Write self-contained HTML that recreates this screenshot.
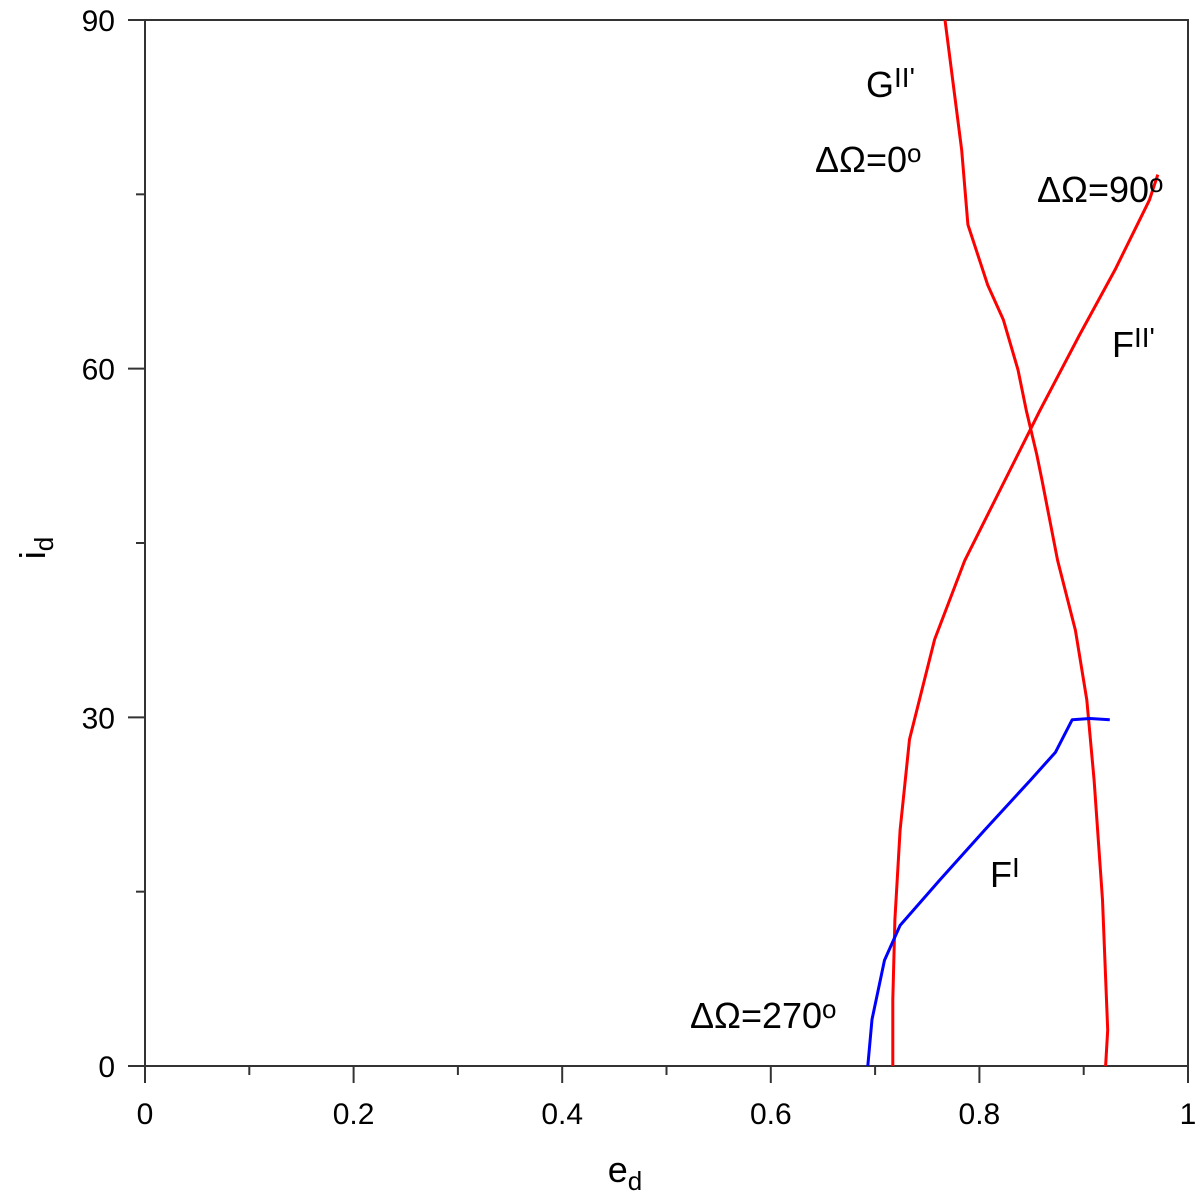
<!DOCTYPE html>
<html><head><meta charset="utf-8"><style>
html,body{margin:0;padding:0;background:#fff;}
svg{display:block;font-family:"Liberation Sans",Arial,sans-serif;}
</style></head><body>
<svg id="chart" width="1200" height="1200" viewBox="0 0 1200 1200">
<g id="axes"></g>
<g id="series"></g>
<g id="labels" font-size="36" fill="#000">
<text x="866" y="97">G<tspan font-size="28" dy="-10">II'</tspan></text>
<text x="815" y="172">ΔΩ=0<tspan font-size="26" dy="-10">o</tspan></text>
<text x="1037" y="202">ΔΩ=90<tspan font-size="26" dy="-10">o</tspan></text>
<text x="1112" y="357">F<tspan font-size="28" dy="-10">II'</tspan></text>
<text x="990" y="887">F<tspan font-size="28" dy="-10">I</tspan></text>
<text x="690" y="1028">ΔΩ=270<tspan font-size="26" dy="-10">o</tspan></text>
</g>
</svg>
<script>
const xTicks=[0,0.2,0.4,0.6,0.8,1];
const xTickLabels=["0","0.2","0.4","0.6","0.8","1"];
const xMinor=[0.1,0.3,0.5,0.7,0.9];
const yTicks=[0,30,60,90];
const yTickLabels=["0","30","60","90"];
const yMinor=[15,45,75];
const gE=[0.767,0.783,0.789,0.808,0.823,0.837,0.845,0.855,0.860,0.875,0.892,0.903,0.910,0.918,0.923,0.921];
const gI=[90,78.8,72.4,67.2,64.2,59.9,56.4,52.6,50.4,43.5,37.5,31.5,24.6,14.3,3.1,0];
const fE=[0.971,0.963,0.930,0.896,0.858,0.820,0.786,0.757,0.733,0.724,0.719,0.717,0.717];
const fI=[76.7,74.5,68.5,62.9,56.4,49.6,43.5,36.7,28.1,20.3,12.6,5.7,0];
const bE=[0.693,0.697,0.709,0.724,0.762,0.805,0.849,0.873,0.889,0.906,0.925];
const bI=[0,4,9.1,12.1,16,20.3,24.6,27,29.8,29.9,29.8];

const L=145,R=1188,T=20,B=1066;
const X=v=>L+(R-L)*v;
const Y=v=>B-(B-T)*v/90;
const NS="http://www.w3.org/2000/svg";
function mk(tag,attrs,parent){const e=document.createElementNS(NS,tag);for(const k in attrs)e.setAttribute(k,attrs[k]);parent.appendChild(e);return e;}
const ax=document.getElementById('axes');
let f=mk('rect',{x:L,y:T,width:R-L,height:B-T,fill:'none',stroke:'#333','stroke-width':2},ax);


xTicks.forEach((v,i)=>{
 let t=mk('line',{x1:X(v),x2:X(v),y1:B,y2:B+17,stroke:'#333','stroke-width':2},ax);
 
 
 let l=mk('text',{x:X(v),y:B+58,'font-size':30,'text-anchor':'middle'},ax);
 l.textContent=xTickLabels[i];
 
 
});
xMinor.forEach(v=>{
 let t=mk('line',{x1:X(v),x2:X(v),y1:B,y2:B+9,stroke:'#333','stroke-width':2},ax);
 
 
});
yTicks.forEach((v,i)=>{
 let t=mk('line',{x1:L-17,x2:L,y1:Y(v),y2:Y(v),stroke:'#333','stroke-width':2},ax);
 
 
 let l=mk('text',{x:L-30,y:Y(v)+11,'font-size':30,'text-anchor':'end'},ax);
 l.textContent=yTickLabels[i];
 
 
});
yMinor.forEach(v=>{
 let t=mk('line',{x1:L-9,x2:L,y1:Y(v),y2:Y(v),stroke:'#333','stroke-width':2},ax);
 
 
});
let xt=mk('text',{x:625,y:1182,'font-size':36,'text-anchor':'middle'},ax);
xt.innerHTML='e<tspan font-size="26" dy="8">d</tspan>';


let yt=mk('text',{x:0,y:0,'font-size':36,'text-anchor':'middle',transform:'translate(45,548) rotate(-90)'},ax);
yt.innerHTML='i<tspan font-size="26" dy="8">d</tspan>';


const sg=document.getElementById('series');
function line(es,is,color,name){
 const d=es.map((e,i)=>(i?'L':'M')+X(e).toFixed(1)+','+Y(is[i]).toFixed(1)).join(' ');
 let p=mk('path',{d:d,fill:'none',stroke:color,'stroke-width':3,'stroke-linejoin':'round'},sg);
 
 
}
line(gE,gI,'#ff0000','curve-g2-dOmega-0');
line(fE,fI,'#ff0000','curve-f2-dOmega-90');
line(bE,bI,'#0000ff','curve-f1-dOmega-270');
</script>
</body></html>
